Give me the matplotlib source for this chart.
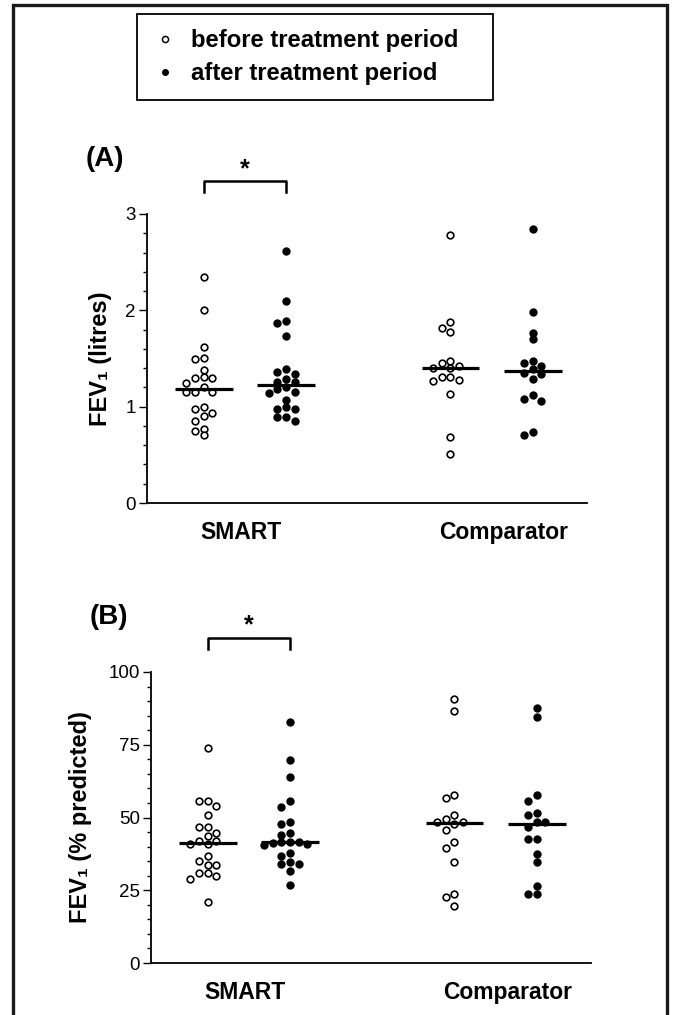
import numpy as np
import matplotlib
matplotlib.use("Agg")
import matplotlib.pyplot as plt
from matplotlib.lines import Line2D
from matplotlib.patches import Rectangle

plt.rcParams['font.family'] = ['Liberation Sans', 'DejaVu Sans']

# --- data ---
group_labels = ["SMART", "Comparator"]
series_labels = ["before treatment period", "after treatment period"]

# (A) FEV1 in litres
smart_fev1_before = [2.347, 2.0, 1.618, 1.507, 1.493, 1.382, 1.306, 1.295, 1.295, 1.25, 1.208,
                     1.156, 1.149, 1.149, 0.997, 0.972, 0.93, 0.903, 0.854, 0.771, 0.743, 0.701]
smart_fev1_after = [2.618, 2.097, 1.885, 1.865, 1.736, 1.392, 1.358, 1.34, 1.285, 1.257, 1.257,
                    1.201, 1.188, 1.149, 1.142, 1.069, 1.0, 0.972, 0.972, 0.889, 0.889, 0.854]
comp_fev1_before = [2.785, 1.882, 1.819, 1.771, 1.476, 1.451, 1.424, 1.399, 1.399, 1.313, 1.313,
                    1.278, 1.267, 1.128, 0.688, 0.507]
comp_fev1_after = [2.84, 1.979, 1.767, 1.698, 1.472, 1.458, 1.417, 1.389, 1.354, 1.34, 1.285,
                   1.122, 1.076, 1.056, 0.736, 0.708]

# (B) FEV1 % predicted
smart_pct_before = [74.0, 55.7, 55.7, 53.9, 50.9, 46.8, 46.8, 44.7, 43.8, 41.9, 41.9, 40.8, 40.8,
                    36.8, 34.9, 33.8, 33.8, 31.0, 31.0, 29.8, 28.9, 20.9]
smart_pct_after = [82.9, 69.7, 63.8, 55.7, 53.7, 48.5, 47.7, 44.7, 43.9, 41.6, 41.6, 41.6, 41.3,
                   40.8, 40.5, 37.8, 36.8, 34.7, 34.0, 34.0, 31.6, 26.7]
comp_pct_before = [90.8, 86.7, 57.6, 56.7, 50.7, 49.5, 48.6, 48.6, 47.7, 45.6, 41.7, 39.6, 34.6,
                   23.6, 22.7, 19.7]
comp_pct_after = [87.7, 84.7, 57.7, 55.5, 51.6, 50.7, 48.6, 48.6, 46.6, 42.5, 42.5, 37.6, 34.6,
                  26.6, 23.6, 23.6]

W, H = 674, 1015
fig = plt.figure(figsize=(W / 100, H / 100), dpi=100)


def px_axes(left, top, right, bottom):
    return fig.add_axes([left / W, 1 - bottom / H, (right - left) / W, (bottom - top) / H])


def swarm_x(ax, x0, values, col_px=8.7, gap_px=6.6):
    # simple beeswarm: stack points sideways in columns when they would overlap
    pts = ax.transData.transform(np.column_stack([np.full(len(values), x0), values]))
    ypx = pts[:, 1]
    px_per_x = ax.transData.transform([(1, 0)])[0][0] - ax.transData.transform([(0, 0)])[0][0]
    cols = np.zeros(len(values))
    placed = []
    for i in np.argsort(-ypx):
        for k in [0, -1, 1, -2, 2, -3, 3, -4, 4]:
            if all(abs(y - ypx[i]) >= gap_px for c, y in placed if c == k):
                break
        cols[i] = k
        placed.append((k, ypx[i]))
    return x0 + cols * col_px / px_per_x


def panel(ax, groups, ymax, major, minor, ylabel, tag, star_y, tag_y):
    positions = [1, 2, 4, 5]
    ax.set_xlim(0.31, 5.66)
    ax.set_ylim(0, ymax)
    for pos, vals, filled in zip(positions, groups, [False, True, False, True]):
        xs = swarm_x(ax, pos, vals)
        ax.plot(xs, vals, 'o', ms=4.8, mec='black', mew=1.2,
                mfc='black' if filled else 'white', clip_on=False, zorder=3)
        med = np.median(vals)
        ax.plot([pos - 0.35, pos + 0.35], [med, med], color='black', lw=2.3, zorder=4,
                solid_capstyle='butt')

    for s in ['top', 'right']:
        ax.spines[s].set_visible(False)
    for s in ['left', 'bottom']:
        ax.spines[s].set_linewidth(1.3)
    ax.set_yticks(major)
    ax.set_yticks(minor, minor=True)
    ax.tick_params(axis='y', which='major', length=6, width=1.0, pad=2, labelsize=13.5)
    ax.tick_params(axis='y', which='minor', length=3, width=1.0)
    ax.set_xticks([1.45, 4.65], group_labels)
    ax.tick_params(axis='x', length=0, pad=13, labelsize=16.5)
    for t in ax.get_xticklabels():
        t.set_fontweight('bold')
    ax.set_ylabel(ylabel, fontsize=17, fontweight='bold')

    # significance bracket between SMART before/after
    yb, yt = star_y
    ax.plot([1, 1, 2, 2], [yt, yb, yb, yt], color='black', lw=1.8, clip_on=False)
    ax.text(1.5, yb, '*', ha='center', va='bottom', fontsize=18, fontweight='bold')
    ax.text(-0.44, tag_y, tag, ha='left', va='center', fontsize=20, fontweight='bold')


ax_a = px_axes(147, 214, 587, 503)
panel(ax_a, [smart_fev1_before, smart_fev1_after, comp_fev1_before, comp_fev1_after],
      3, [0, 1, 2, 3], np.arange(0, 3.01, 0.2), 'FEV\u2081 (litres)', '(A)', (3.34, 3.23), 3.57)
ax_a.yaxis.set_label_coords(-0.08, 0.5)

ax_b = px_axes(151, 672, 591, 963)
panel(ax_b, [smart_pct_before, smart_pct_after, comp_pct_before, comp_pct_after],
      100, [0, 25, 50, 75, 100], np.arange(0, 101, 5), 'FEV\u2081 (% predicted)', '(B)',
      (111.8, 107.8), 119.0)
ax_b.yaxis.set_label_coords(-0.135, 0.5)

# legend box
handles = [Line2D([], [], ls='none', marker='o', ms=4.4, mfc='white', mec='black', mew=1.1),
           Line2D([], [], ls='none', marker='o', ms=4.0, mfc='black', mec='black')]
fig.legend(handles, series_labels, loc='center left', bbox_to_anchor=(141 / W, 1 - 57 / H),
           frameon=False, handlelength=1.0, handletextpad=0.6, labelspacing=0.42,
           prop={'weight': 'bold', 'size': 17.2}, borderpad=0)
fig.add_artist(Rectangle((137 / W, 1 - 100 / H), (493 - 137) / W, 86 / H, fill=False,
                         lw=1.3, ec='black', transform=fig.transFigure))

# outer frame (bottom edge runs off the page)
fig.add_artist(Rectangle((13 / W, -0.05), (667 - 13) / W, 1.05 - 5 / H, fill=False,
                         lw=2.4, ec='#1a1a1a', transform=fig.transFigure))

fig.savefig('out.png', dpi=100)
